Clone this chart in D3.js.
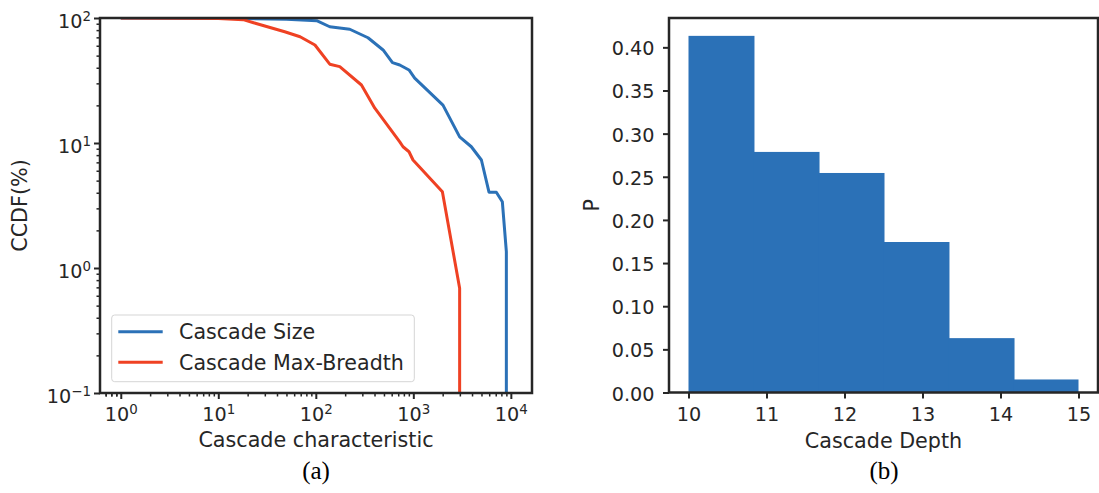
<!DOCTYPE html>
<head>
<meta charset="utf-8">
<script src="https://d3js.org/d3.v7.min.js"></script>
<style>
  body { margin:0; background:#fff; }
  svg { font-family: "DejaVu Sans", sans-serif; }
  .caption { font-family: "Liberation Serif", "Times New Roman", serif; }
</style>
</head>
<body>
<svg width="1099" height="493"></svg>
<script>
// (a) CCDF curves, values in percent
var sizeX    = [1, 5, 20, 50, 102, 139, 223, 343, 490, 611, 726, 903, 1033, 2014, 2985, 3935, 4990, 5970, 7100, 8180, 8995, 8995];
var sizeY    = [100, 99.6, 99, 97.5, 95.1, 85.1, 81.3, 69.5, 55.5, 43.9, 42.1, 38.4, 33.0, 20.1, 11.2, 9.33, 7.31, 4.04, 4.04, 3.39, 1.35, 0.01];
var breadthX = [1, 5, 10, 18, 23, 48, 69, 98, 139, 176, 294, 403, 726, 784, 903, 993, 1986, 2985, 2985];
var breadthY = [100, 99.6, 99.2, 97, 91.6, 77.6, 70.8, 60.8, 42.7, 40.8, 29.1, 19.0, 10.2, 9.33, 8.51, 7.31, 4.07, 0.689, 0.01];
var seriesNames = ["Cascade Size", "Cascade Max-Breadth"];

// (b) histogram of cascade depth (density)
var depthEdges = [10, 10.833, 11.667, 12.5, 13.333, 14.167, 15];
var depthP     = [0.4133, 0.2788, 0.2544, 0.1744, 0.0630, 0.0151];

var logExpX = [0, 1, 2, 3, 4];
var logExpY = [-1, 0, 1, 2];
var pTicks  = [0, 0.05, 0.10, 0.15, 0.20, 0.25, 0.30, 0.35, 0.40];
var depthTicks = [10, 11, 12, 13, 14, 15];

var blue = "#2b71b7", red = "#ef4123", ink = "#262626";
var tickFont = "19.2px", labelFont = "20.7px";

var svg = d3.select("svg");
var A = {left:100, right:532, top:18, bottom:393};
var B = {left:669, right:1098, top:18, bottom:392.5};

// ---------- panel (a) ----------
var x1 = d3.scaleLog().domain([Math.pow(10, -0.213), Math.pow(10, 4.217)]).range([A.left, A.right]);
var y1 = d3.scaleLog().domain([0.1, 100]).range([A.bottom, A.top]);

svg.append("clipPath").attr("id", "clipA").append("rect")
  .attr("x", A.left).attr("y", A.top).attr("width", A.right - A.left).attr("height", A.bottom - A.top);

var line = d3.line().x(function(d){ return x1(d[0]); }).y(function(d){ return y1(d[1]); });
var gA = svg.append("g").attr("clip-path", "url(#clipA)");
gA.append("path").datum(d3.zip(sizeX, sizeY)).attr("d", line)
  .attr("fill", "none").attr("stroke", blue).attr("stroke-width", 3).attr("stroke-linejoin", "round");
gA.append("path").datum(d3.zip(breadthX, breadthY)).attr("d", line)
  .attr("fill", "none").attr("stroke", red).attr("stroke-width", 3).attr("stroke-linejoin", "round");

// minor ticks
var minorX = [], minorY = [];
for (var e = -1; e <= 4; e++) for (var m = 2; m <= 9; m++) {
  var v = m * Math.pow(10, e);
  if (v > x1.domain()[0] && v < x1.domain()[1]) minorX.push(v);
  if (v > 0.1 && v < 100) minorY.push(v);
}
[0.7, 0.8, 0.9].forEach(function(v){ if (v > x1.domain()[0]) minorX.push(v); });

function styleAxis(g) {
  g.select(".domain").remove();
  g.selectAll(".tick line").attr("stroke", ink);
  g.selectAll("text").attr("fill", ink);
}

svg.append("g").attr("transform", "translate(0," + A.bottom + ")")
  .call(d3.axisBottom(x1).tickValues(minorX).tickSize(3.5).tickFormat(""))
  .call(styleAxis).selectAll(".tick line").attr("stroke-width", 1.5);
svg.append("g").attr("transform", "translate(" + A.left + ",0)")
  .call(d3.axisLeft(y1).tickValues(minorY).tickSize(3.5).tickFormat(""))
  .call(styleAxis).selectAll(".tick line").attr("stroke-width", 1.5);

function supLabel(sel) {
  sel.each(function(d) {
    var t = d3.select(this).text("");
    var ex = Math.round(Math.log10(d));
    t.append("tspan").text("10");
    t.append("tspan").attr("dy", -7).attr("font-size", "13.4px")
      .text(ex < 0 ? "\u2212" + (-ex) : String(ex));
  });
}

var axXA = svg.append("g").attr("transform", "translate(0," + A.bottom + ")")
  .call(d3.axisBottom(x1).tickValues(logExpX.map(function(e){ return Math.pow(10, e); })).tickSize(6))
  .call(styleAxis);
axXA.selectAll(".tick line").attr("stroke-width", 2);
axXA.selectAll(".tick text").attr("font-size", tickFont).attr("font-family", "DejaVu Sans")
  .attr("y", 28).attr("dy", null).call(supLabel);

var axYA = svg.append("g").attr("transform", "translate(" + A.left + ",0)")
  .call(d3.axisLeft(y1).tickValues(logExpY.map(function(e){ return Math.pow(10, e); })).tickSize(6))
  .call(styleAxis);
axYA.selectAll(".tick line").attr("stroke-width", 2);
axYA.selectAll(".tick text").attr("font-size", tickFont).attr("font-family", "DejaVu Sans")
  .attr("x", -9).attr("y", 9).attr("dy", null).call(supLabel);

svg.append("rect").attr("x", A.left).attr("y", A.top)
  .attr("width", A.right - A.left).attr("height", A.bottom - A.top)
  .attr("fill", "none").attr("stroke", ink).attr("stroke-width", 2.5);

// legend
var lg = svg.append("g");
lg.append("rect").attr("x", 111.7).attr("y", 315).attr("width", 302.6).attr("height", 66.7)
  .attr("rx", 3).attr("fill", "#fff").attr("fill-opacity", 0.8)
  .attr("stroke", "#d5d5d5").attr("stroke-width", 1);
[blue, red].forEach(function(c, i) {
  var yy = 331.7 + i * 30.6;
  lg.append("line").attr("x1", 118.3).attr("x2", 162.7).attr("y1", yy).attr("y2", yy)
    .attr("stroke", c).attr("stroke-width", 3);
  lg.append("text").attr("x", 179).attr("y", yy + 7.5).attr("font-size", "20.6px")
    .attr("fill", ink).text(seriesNames[i]);
});

svg.append("text").attr("x", (A.left + A.right) / 2).attr("y", 447).attr("text-anchor", "middle")
  .attr("font-size", labelFont).attr("fill", ink).text("Cascade characteristic");
svg.append("text").attr("transform", "translate(27," + ((A.top + A.bottom) / 2) + ") rotate(-90)")
  .attr("text-anchor", "middle").attr("font-size", labelFont).attr("fill", ink).text("CCDF(%)");
svg.append("text").attr("class", "caption").attr("x", 316).attr("y", 479).attr("text-anchor", "middle")
  .attr("font-size", "25px").attr("fill", "#000").text("(a)");

// ---------- panel (b) ----------
var x2 = d3.scaleLinear().domain([9.75, 15.25]).range([B.left, B.right]);
var y2 = d3.scaleLinear().domain([0, 0.434]).range([B.bottom, B.top]);

svg.append("g").selectAll("rect").data(depthP).enter().append("rect")
  .attr("x", function(d, i){ return x2(depthEdges[i]); })
  .attr("width", function(d, i){ return x2(depthEdges[i + 1]) - x2(depthEdges[i]) + (i < depthP.length - 1 ? 1 : 0); })
  .attr("y", function(d){ return y2(d); })
  .attr("height", function(d){ return y2(0) - y2(d); })
  .attr("fill", blue);

var axXB = svg.append("g").attr("transform", "translate(0," + B.bottom + ")")
  .call(d3.axisBottom(x2).tickValues(depthTicks).tickSize(6).tickFormat(d3.format("d")))
  .call(styleAxis);
axXB.selectAll(".tick line").attr("stroke-width", 2);
axXB.selectAll(".tick text").attr("font-size", tickFont).attr("font-family", "DejaVu Sans")
  .attr("y", 28.5).attr("dy", null);

var axYB = svg.append("g").attr("transform", "translate(" + B.left + ",0)")
  .call(d3.axisLeft(y2).tickValues(pTicks).tickSize(6).tickFormat(d3.format(".2f")))
  .call(styleAxis);
axYB.selectAll(".tick line").attr("stroke-width", 2);
axYB.selectAll(".tick text").attr("font-size", tickFont).attr("font-family", "DejaVu Sans")
  .attr("x", -14.5).attr("y", 7.5).attr("dy", null);

svg.append("rect").attr("x", B.left).attr("y", B.top)
  .attr("width", B.right - B.left).attr("height", B.bottom - B.top)
  .attr("fill", "none").attr("stroke", ink).attr("stroke-width", 2.5);

svg.append("text").attr("x", (B.left + B.right) / 2).attr("y", 447.5).attr("text-anchor", "middle")
  .attr("font-size", labelFont).attr("fill", ink).text("Cascade Depth");
svg.append("text").attr("transform", "translate(599," + ((B.top + B.bottom) / 2) + ") rotate(-90)")
  .attr("text-anchor", "middle").attr("font-size", labelFont).attr("fill", ink).text("P");
svg.append("text").attr("class", "caption").attr("x", 884).attr("y", 479).attr("text-anchor", "middle")
  .attr("font-size", "25px").attr("fill", "#000").text("(b)");
</script>
</body>
